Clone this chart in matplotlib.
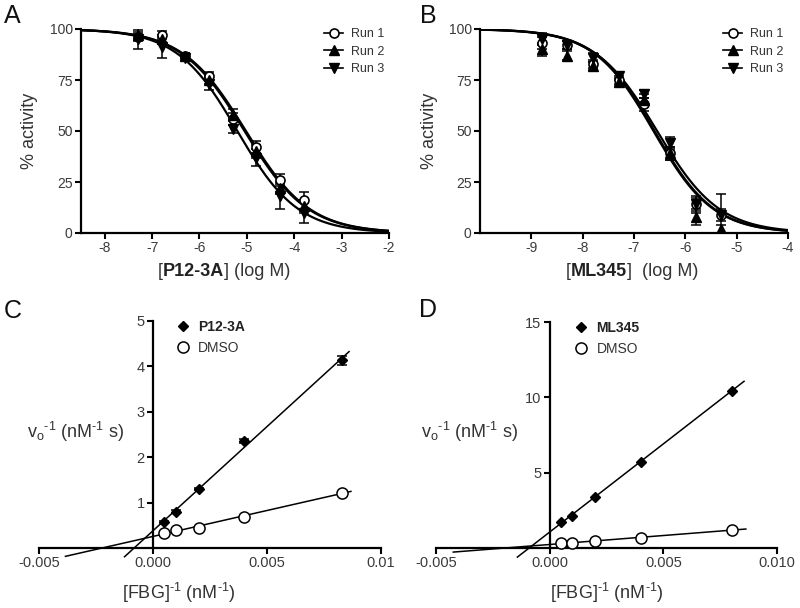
import numpy as np
import matplotlib
matplotlib.use('Agg')
import matplotlib.pyplot as plt
from matplotlib.lines import Line2D
from matplotlib.offsetbox import TextArea, HPacker, AnchoredOffsetbox

plt.rcParams['font.family'] = ['Liberation Sans', 'DejaVu Sans']
plt.rcParams['mathtext.fontset'] = 'custom'
plt.rcParams['mathtext.rm'] = 'Liberation Sans'
plt.rcParams['mathtext.it'] = 'Liberation Sans:italic'
plt.rcParams['mathtext.bf'] = 'Liberation Sans:bold'
plt.rcParams['axes.unicode_minus'] = False

# ---------------- data ----------------
# Panel A : P12-3A dose response
a_logc = [-7.3, -6.8, -6.3, -5.8, -5.3, -4.8, -4.3, -3.8]
a_run1 = [96, 97, 87, 77, 56, 42, 26, 16]
a_run2 = [97, 95, 87, 75, 58, 40, 22, 13]
a_run3 = [95, 91, 86, 73, 51, 37, 18, 10]
a_err1 = [2, 2, 1, 2, 3, 3, 3, 4]
a_err2 = [2, 2, 1, 2, 3, 3, 3, 3]
a_err3 = [5, 5, 1, 3, 2, 4, 6, 5]
a_logic50 = [-5.02, -5.05, -5.2]
a_hill = [0.65, 0.65, 0.68]

# Panel B : ML345 dose response
b_logc = [-8.8, -8.3, -7.8, -7.3, -6.8, -6.3, -5.8, -5.3]
b_run1 = [93, 92, 83, 75, 63, 39, 14, 9]
b_run2 = [90, 87, 82, 74, 65, 39, 8, 2]
b_run3 = [95, 92, 86, 77, 68, 44, 14, 9]
b_err1 = [3, 2, 2, 2, 3, 3, 3, 10]
b_err2 = [3, 2, 2, 2, 3, 3, 4, 2]
b_err3 = [3, 2, 2, 2, 2, 3, 4, 3]
b_logic50 = [-6.6, -6.62, -6.55]
b_hill = [0.75, 0.75, 0.72]

run_labels = ['Run 1', 'Run 2', 'Run 3']

# Panel C : Lineweaver-Burk, P12-3A
c_x = [0.0005, 0.001, 0.002, 0.004, 0.0083]
c_inh = [0.57, 0.80, 1.30, 2.35, 4.13]
c_inh_err = [0.03, 0.03, 0.03, 0.04, 0.1]
c_dmso = [0.34, 0.39, 0.44, 0.69, 1.22]
c_inh_range = [-0.00125, 0.0086]
c_dmso_range = [-0.00384, 0.00868]

# Panel D : Lineweaver-Burk, ML345
d_x = [0.0005, 0.001, 0.002, 0.004, 0.008]
d_inh = [1.75, 2.13, 3.40, 5.71, 10.44]
d_dmso = [0.33, 0.35, 0.46, 0.66, 1.21]
d_inh_range = [-0.00142, 0.00855]
d_dmso_range = [-0.00424, 0.00863]

# ---------------- figure ----------------
W, H = 800, 608
fig = plt.figure(figsize=(W / 100, H / 100), dpi=100)


def axes_px(l, r, t, b):
    return fig.add_axes([l / W, 1 - b / H, (r - l) / W, (b - t) / H])


def logistic(x, c, h):
    return 100.0 / (1.0 + 10 ** ((x - c) * h))


TICK_FS = 10
LABEL_FS = 13
HY = '\u2010'  # hyphen used in superscripts

markers = [dict(marker='o', mfc='white', mec='black', ms=6.5, mew=1.2),
           dict(marker='^', mfc='black', mec='black', ms=7, mew=1),
           dict(marker='v', mfc='black', mec='black', ms=7, mew=1)]


def style_dose_axes(ax):
    for s in ['top', 'right']:
        ax.spines[s].set_visible(False)
    for s in ['left', 'bottom']:
        ax.spines[s].set_linewidth(1.6)
    ax.tick_params(direction='out', length=4, width=1.5, labelsize=TICK_FS,
                   pad=2, colors='black', labelcolor='#3a3a3a')
    ax.set_ylim(0, 100)
    ax.set_yticks([0, 25, 50, 75, 100])


def dose_panel(ax, logc, runs, errs, ic50s, hills, xlim, xticks, name, lab_x, lab_y):
    style_dose_axes(ax)
    ax.set_xlim(*xlim)
    ax.set_xticks(xticks)
    xx = np.linspace(xlim[0], xlim[1], 300)
    for c, h in zip(ic50s, hills):
        ax.plot(xx, logistic(xx, c, h), color='black', lw=1.6, zorder=2)
    for y, e, m in zip(runs, errs, markers):
        ax.errorbar(logc, y, yerr=e, fmt='none', ecolor='black',
                    elinewidth=1.1, capsize=3.5, capthick=1.1, zorder=3)
        ax.plot(logc, y, ls='none', zorder=4, **m)
    handles = [Line2D([0], [0], color='black', lw=1.2, **m) for m in markers]
    ax.legend(handles, run_labels, loc='upper right', bbox_to_anchor=(1.02, 1.06),
              frameon=False, fontsize=9, handlelength=1.5, handletextpad=0.6,
              labelspacing=0.45, labelcolor='#333333')
    ax.set_ylabel('% activity', fontsize=LABEL_FS, color='#333333')
    ax.yaxis.set_label_coords(lab_y, 0.5)
    pack = HPacker(children=[
        TextArea('[', textprops=dict(fontsize=LABEL_FS, color='#333333')),
        TextArea(name, textprops=dict(fontsize=LABEL_FS, fontweight='bold', color='#222222')),
        TextArea(']', textprops=dict(fontsize=LABEL_FS, color='#333333')),
        TextArea('  (log M)' if name == 'ML345' else ' (log M)',
                 textprops=dict(fontsize=LABEL_FS, color='#333333')),
    ], align='baseline', pad=0, sep=0)
    ab = AnchoredOffsetbox(loc='center', child=pack, pad=0, borderpad=0, frameon=False,
                           bbox_to_anchor=(lab_x, -0.19), bbox_transform=ax.transAxes)
    ax.add_artist(ab)


axA = axes_px(81, 389, 29, 233)
dose_panel(axA, a_logc, [a_run1, a_run2, a_run3], [a_err1, a_err2, a_err3],
           a_logic50, a_hill, (-8.5, -2), [-8, -7, -6, -5, -4, -3, -2], 'P12-3A',
           0.463, (38 - 81) / 308)

axB = axes_px(480, 788, 29, 233)
dose_panel(axB, b_logc, [b_run1, b_run2, b_run3], [b_err1, b_err2, b_err3],
           b_logic50, b_hill, (-10, -4), [-9, -8, -7, -6, -5, -4], 'ML345',
           0.494, (438 - 480) / 308)


def lb_panel(ax, x, inh, dmso, inh_range, dmso_range, ymax, yticks, xtl, name,
             leg_x, inh_err=None):
    ax.set_xlim(-0.005, 0.010)
    ax.set_ylim(0, ymax)
    for s in ['top', 'right']:
        ax.spines[s].set_visible(False)
    ax.spines['left'].set_position(('data', 0))
    for s in ['left', 'bottom']:
        ax.spines[s].set_linewidth(1.6)
    ax.tick_params(direction='out', length=4, width=1.5, labelsize=10.5,
                   pad=2, colors='black', labelcolor='#3a3a3a')
    ax.set_yticks(yticks)
    ax.set_xticks([-0.005, 0.0, 0.005, 0.010])
    ax.set_xticklabels(xtl)
    # regression lines
    p1 = np.polyfit(x, inh, 1)
    p2 = np.polyfit(x, dmso, 1)
    xr1 = np.array(inh_range)
    xr2 = np.array(dmso_range)
    ax.plot(xr1, np.polyval(p1, xr1), color='black', lw=1.1, clip_on=False, zorder=2)
    ax.plot(xr2, np.polyval(p2, xr2), color='black', lw=1.1, clip_on=False, zorder=2)
    if inh_err is not None:
        ax.errorbar(x, inh, yerr=inh_err, fmt='none', ecolor='black', elinewidth=1.1,
                    capsize=3.5, capthick=1.1, zorder=3)
    ax.plot(x, inh, ls='none', marker='D', ms=5.5, mfc='black', mec='black', zorder=4,
            clip_on=False)
    ax.plot(x, dmso, ls='none', marker='o', ms=8, mfc='white', mec='black', mew=1.1,
            zorder=4, clip_on=False)
    handles = [Line2D([0], [0], ls='none', marker='D', ms=5.5, mfc='black', mec='black'),
               Line2D([0], [0], ls='none', marker='o', ms=8, mfc='white', mec='black', mew=1.1)]
    leg = ax.legend(handles, [name, 'DMSO'], loc='upper left', bbox_to_anchor=(leg_x, 1.06),
                    frameon=False, fontsize=10, handlelength=1.2, handletextpad=0.5,
                    labelspacing=0.5, labelcolor='#333333')
    leg.get_texts()[0].set_fontweight('bold')
    leg.get_texts()[0].set_color('#222222')


axC = axes_px(39, 381, 321, 548)
lb_panel(axC, c_x, c_inh, c_dmso, c_inh_range, c_dmso_range, 5, [1, 2, 3, 4, 5],
         ['-0.005', '0.000', '0.005', '0.01'], 'P12-3A', 0.36, c_inh_err)

axD = axes_px(436, 777, 322, 548)
lb_panel(axD, d_x, d_inh, d_dmso, d_inh_range, d_dmso_range, 15, [5, 10, 15],
         ['-0.005', '0.000', '0.005', '0.010'], 'ML345', 0.365)

ylab = (r'v$_\mathregular{o}$$^\mathregular{' + HY + r'1}$ (nM$^\mathregular{' + HY
        + r'1}$ s)')
xlab = r'[FBG]$^\mathregular{' + HY + r'1}$ (nM$^\mathregular{' + HY + r'1}$)'
fig.text(76 / W, 1 - 432 / H, ylab, fontsize=LABEL_FS, ha='center', va='center', color='#333333')
fig.text(470 / W, 1 - 432 / H, ylab, fontsize=LABEL_FS, ha='center', va='center', color='#333333')
fig.text(179 / W, 1 - 593 / H, xlab, fontsize=LABEL_FS, ha='center', va='center', color='#333333')
fig.text(607 / W, 1 - 593 / H, xlab, fontsize=LABEL_FS, ha='center', va='center', color='#333333')

# panel letters
for letter, (px, py) in zip('ABCD', [(4, 4), (420, 4), (4, 299), (419, 298)]):
    fig.text(px / W, 1 - py / H, letter, fontsize=18, ha='left', va='top', color='#111111')

fig.savefig('out.png', dpi=100)
